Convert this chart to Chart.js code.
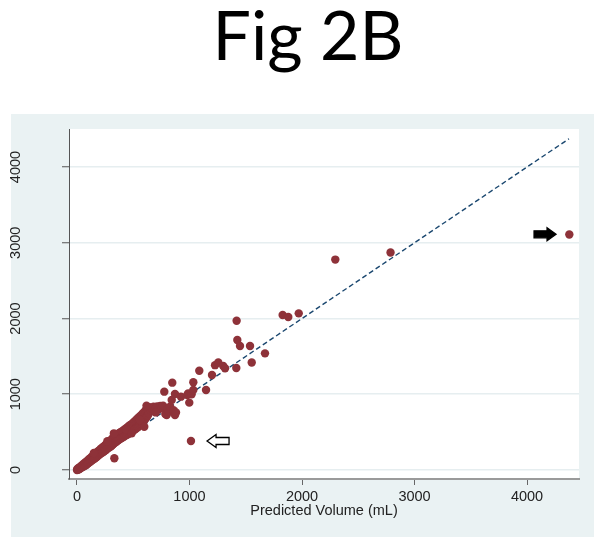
<!DOCTYPE html>
<html>
<head>
<meta charset="utf-8">
<script src="https://cdn.jsdelivr.net/npm/chart.js@4"></script>
<style>
  html, body { margin: 0; padding: 0; background: #fff; }
  #wrap { position: relative; width: 602px; height: 546px; }
  #title {
    position: absolute; left: 0; top: -6px; width: 616px; text-align: center;
    font-family: Lato, "Open Sans", sans-serif; font-size: 68px; line-height: 80px; color: #000;
  }
  canvas { position: absolute; left: 0; top: 0; }
</style>
</head>
<body>
<div id="wrap">
  <canvas id="fig" width="602" height="546"></canvas>
  <div id="title">Fig 2B</div>
</div>
<script>
// predicted vs measured volume (mL)
const predicted = [
  0, 3, 8, 12, 18, 22, 28, 33, 38, 42, 48, 52, 58, 62, 68, 72, 78, 82, 88, 92, 98,
  102, 108, 112, 118, 122, 128, 132, 138, 142, 148, 152, 158, 162, 168, 172, 178, 182, 188, 192, 198,
  202, 208, 212, 218, 222, 228, 232, 238, 242, 248, 252, 258, 262, 268, 272, 278, 282, 288, 292, 298,
  302, 308, 312, 318, 322, 328, 332, 336, 342, 348, 352, 358, 362, 368, 372, 378, 382, 388, 392, 398,
  404, 410, 416, 422, 428, 434, 440, 446, 452, 458, 464, 470, 476, 482, 488, 494, 500,
  505, 510, 515, 520, 525, 530, 535, 540, 545, 550, 555, 560, 565, 570, 575, 580, 585, 590, 595, 600, 605, 610, 615, 620, 625, 630,
  640, 645, 655, 665, 680, 690, 700, 712, 725, 740, 752, 765, 776, 785, 797, 805, 815, 827, 842, 847, 858, 871, 871, 880,
  924, 980, 989, 998, 1013, 1019, 1034, 1034, 1087, 1147, 1200, 1227, 1256, 1300, 1316, 1416, 1419, 1425, 1449, 1538, 1553,
  1671, 1828, 1878, 1971, 2296, 2787, 4376,
  150, 270, 328, 437, 486, 560, 598, 618, 700
];
const measured = [
  0, 12, 2, 25, 8, 35, 18, 45, 28, 60, 38, 70, 45, 85, 55, 95, 62, 110, 75, 120, 88,
  135, 100, 150, 110, 160, 120, 175, 130, 190, 145, 200, 150, 215, 165, 225, 175, 240, 190, 250, 200,
  265, 215, 280, 225, 290, 235, 305, 245, 315, 255, 330, 265, 345, 280, 355, 290, 370, 300, 380, 310,
  395, 320, 410, 335, 430, 350, 155, 445, 365, 455, 375, 470, 390, 480, 400, 490, 410, 500, 420, 510,
  430, 520, 440, 535, 450, 545, 460, 560, 470, 575, 485, 590, 495, 600, 505, 615, 520,
  630, 530, 645, 540, 660, 555, 675, 565, 690, 580, 700, 595, 715, 610, 730, 625, 745, 640, 760, 660, 780, 680, 800, 700, 820, 720,
  750, 830, 790, 810, 835, 780, 820, 840, 800, 845, 820, 850, 1034, 740, 726, 800, 770, 836, 924, 1153, 790, 726, 1003, 760,
  968, 990, 1012, 889, 383, 999, 1158, 1056, 1311, 1056, 1254, 1384, 1420, 1373, 1342, 1347, 1971, 1716, 1637, 1637, 1420,
  1540, 2046, 2020, 2068, 2778, 2871, 3110,
  225, 380, 484, 530, 484, 660, 570, 850, 760
];
// line of identity, from 0 to the largest prediction
const fitX = [0, 4373];
const fitY = [0, 4373];
const xTicks = [0, 1000, 2000, 3000, 4000];
const yTicks = [0, 1000, 2000, 3000, 4000];
// arrow annotations: tip position in data units
const arrowNotes = [
  { x: 4258, y: 3112, dir: "right", fill: "#000000" },
  { x: 1156, y: 383, dir: "left", fill: "#ffffff" }
];

const panelPlugin = {
  id: "panel",
  beforeDraw(chart) {
    const { ctx, chartArea } = chart;
    ctx.save();
    ctx.fillStyle = "#ffffff";
    ctx.fillRect(0, 0, chart.width, chart.height);
    ctx.fillStyle = "#eaf2f3";
    ctx.fillRect(11, 114, 583, 423);
    ctx.fillStyle = "#ffffff";
    ctx.fillRect(chartArea.left, chartArea.top, chartArea.right - chartArea.left, chartArea.bottom - chartArea.top);
    ctx.restore();
  }
};

const arrowPlugin = {
  id: "arrows",
  afterDatasetsDraw(chart) {
    const { ctx, scales } = chart;
    ctx.save();
    arrowNotes.forEach((a) => {
      const tx = scales.x.getPixelForValue(a.x);
      const ty = scales.y.getPixelForValue(a.y);
      const s = a.dir === "right" ? -1 : 1; // direction from tip toward tail
      const len = 22, head = 9, hh = 6.5, sh = 3.5;
      ctx.beginPath();
      ctx.moveTo(tx, ty);
      ctx.lineTo(tx + s * head, ty - hh);
      ctx.lineTo(tx + s * head, ty - sh);
      ctx.lineTo(tx + s * len, ty - sh);
      ctx.lineTo(tx + s * len, ty + sh);
      ctx.lineTo(tx + s * head, ty + sh);
      ctx.lineTo(tx + s * head, ty + hh);
      ctx.closePath();
      ctx.fillStyle = a.fill;
      ctx.fill();
      ctx.lineWidth = 1.3;
      ctx.strokeStyle = "#000";
      ctx.stroke();
    });
    ctx.restore();
  }
};

const tickFont = { family: "'Liberation Sans', Arial, sans-serif", size: 14.5 };

new Chart(document.getElementById("fig"), {
  type: "scatter",
  data: {
    datasets: [
      {
        label: "Measured",
        data: predicted.map((v, i) => ({ x: v, y: measured[i] })),
        backgroundColor: "#8e3239",
        borderWidth: 0,
        pointRadius: 4.2,
        order: 1
      },
      {
        label: "Identity",
        type: "line",
        data: fitX.map((v, i) => ({ x: v, y: fitY[i] })),
        borderColor: "#1a476f",
        borderWidth: 1.4,
        borderDash: [5, 3],
        pointRadius: 0,
        fill: false,
        order: 2
      }
    ]
  },
  options: {
    responsive: false,
    animation: false,
    layout: { padding: { top: 129, right: 23, bottom: 9, left: 0 } },
    plugins: {
      legend: { display: false },
      tooltip: { enabled: false }
    },
    scales: {
      x: {
        type: "linear",
        min: -71,
        max: 4462,
        afterBuildTicks: (scale) => { scale.ticks = xTicks.map((v) => ({ value: v })); },
        afterFit: (scale) => { scale.height = 58; },
        ticks: { font: tickFont, color: "#222", padding: 3, maxRotation: 0, callback: (v) => String(v) },
        grid: { color: "rgba(0,0,0,0)", drawOnChartArea: false, tickLength: 6, tickColor: "#666", tickWidth: 1 },
        border: { color: "#9a9a9a", width: 2 },
        title: {
          display: true,
          text: "Predicted Volume (mL)",
          font: tickFont,
          color: "#222",
          padding: { top: 0, bottom: 17 }
        }
      },
      y: {
        type: "linear",
        min: -119,
        max: 4502,
        afterBuildTicks: (scale) => { scale.ticks = yTicks.map((v) => ({ value: v })); },
        afterFit: (scale) => { scale.width = 69; },
        ticks: { font: tickFont, color: "#222", padding: 30, minRotation: 90, maxRotation: 90, crossAlign: "center", callback: (v) => String(v) },
        grid: { color: "#e6eef0", lineWidth: 1.5, tickLength: 7, tickColor: "#555", tickWidth: 1 },
        border: { color: "#555", width: 1 }
      }
    }
  },
  plugins: [panelPlugin, arrowPlugin]
});
</script>
</body>
</html>
